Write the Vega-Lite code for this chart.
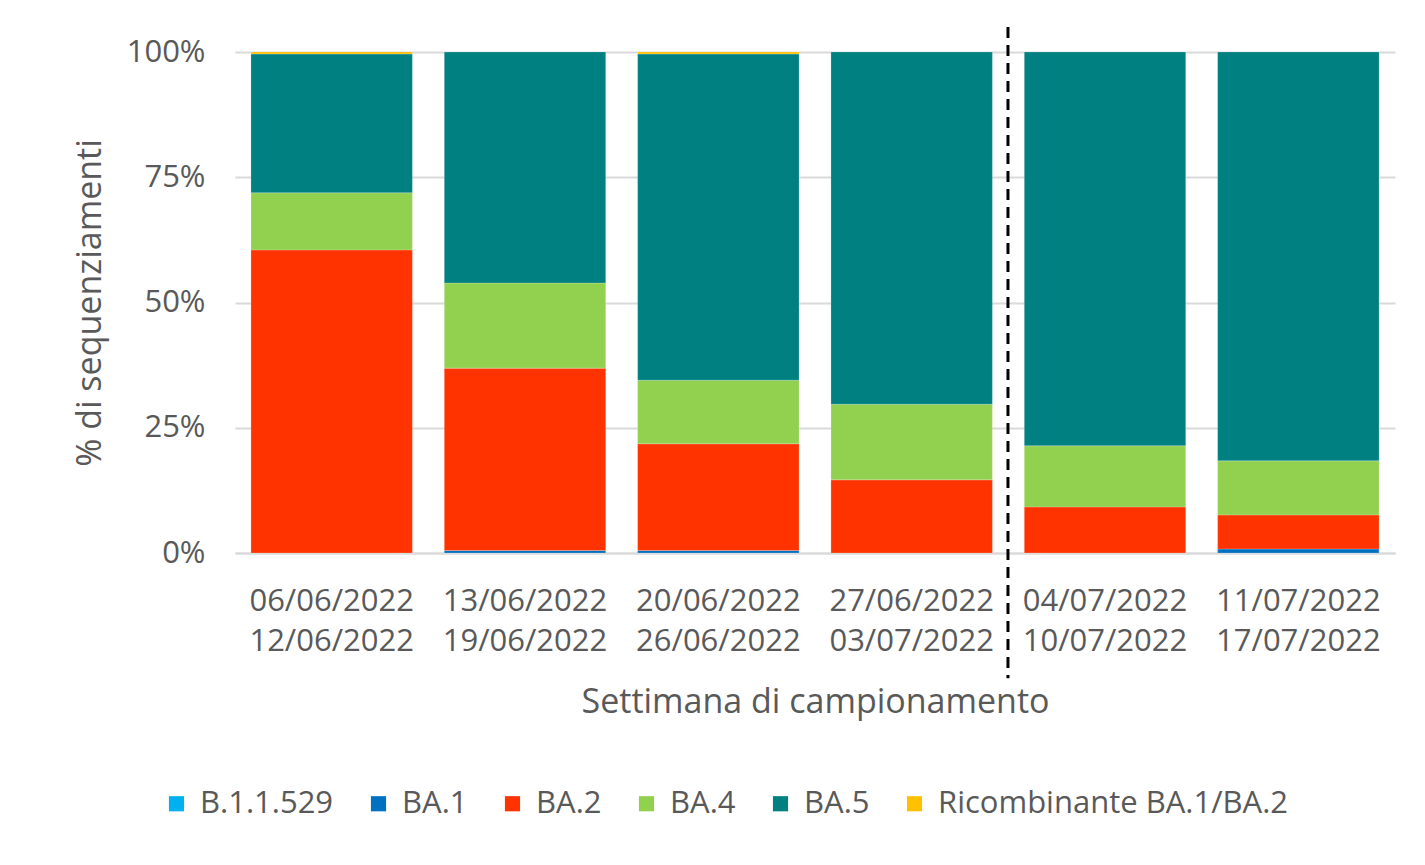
{
  "$schema": "https://vega.github.io/schema/vega-lite/v6.json",
  "width": 1160,
  "height": 501,
  "autosize": {"type": "none"},
  "padding": {"left": 235, "top": 52, "right": 30, "bottom": 312},
  "background": "white",
  "config": {
    "font": "Open Sans",
    "view": {"stroke": null},
    "axis": {"labelColor": "#595959", "titleColor": "#595959", "labelFont": "Open Sans", "titleFont": "Open Sans", "titleFontWeight": "normal"},
    "legend": {"labelFont": "Open Sans"}
  },
  "layer": [
    {
      "data": {"values": [
        {"week": "06/06/2022 12/06/2022", "variant": "BA.2", "value": 0.605},
        {"week": "06/06/2022 12/06/2022", "variant": "BA.4", "value": 0.114},
        {"week": "06/06/2022 12/06/2022", "variant": "BA.5", "value": 0.277},
        {"week": "06/06/2022 12/06/2022", "variant": "Ricombinante BA.1/BA.2", "value": 0.004},
        {"week": "13/06/2022 19/06/2022", "variant": "BA.1", "value": 0.005},
        {"week": "13/06/2022 19/06/2022", "variant": "BA.2", "value": 0.364},
        {"week": "13/06/2022 19/06/2022", "variant": "BA.4", "value": 0.17},
        {"week": "13/06/2022 19/06/2022", "variant": "BA.5", "value": 0.461},
        {"week": "20/06/2022 26/06/2022", "variant": "BA.1", "value": 0.005},
        {"week": "20/06/2022 26/06/2022", "variant": "BA.2", "value": 0.213},
        {"week": "20/06/2022 26/06/2022", "variant": "BA.4", "value": 0.127},
        {"week": "20/06/2022 26/06/2022", "variant": "BA.5", "value": 0.651},
        {"week": "20/06/2022 26/06/2022", "variant": "Ricombinante BA.1/BA.2", "value": 0.004},
        {"week": "27/06/2022 03/07/2022", "variant": "BA.2", "value": 0.146},
        {"week": "27/06/2022 03/07/2022", "variant": "BA.4", "value": 0.151},
        {"week": "27/06/2022 03/07/2022", "variant": "BA.5", "value": 0.703},
        {"week": "04/07/2022 10/07/2022", "variant": "BA.2", "value": 0.092},
        {"week": "04/07/2022 10/07/2022", "variant": "BA.4", "value": 0.122},
        {"week": "04/07/2022 10/07/2022", "variant": "BA.5", "value": 0.786},
        {"week": "11/07/2022 17/07/2022", "variant": "BA.1", "value": 0.008},
        {"week": "11/07/2022 17/07/2022", "variant": "BA.2", "value": 0.068},
        {"week": "11/07/2022 17/07/2022", "variant": "BA.4", "value": 0.108},
        {"week": "11/07/2022 17/07/2022", "variant": "BA.5", "value": 0.816}
      ]},
      "mark": {"type": "bar", "stroke": "white", "strokeWidth": 0.5, "strokeOpacity": 0.4},
      "encoding": {
        "x": {
          "field": "week", "type": "nominal", "sort": null,
          "scale": {
            "domain": ["06/06/2022 12/06/2022", "13/06/2022 19/06/2022", "20/06/2022 26/06/2022", "27/06/2022 03/07/2022", "04/07/2022 10/07/2022", "11/07/2022 17/07/2022"],
            "paddingInner": 0.165, "paddingOuter": 0.0825
          },
          "axis": {
            "title": "Settimana di campionamento",
            "titleFontSize": 34,
            "titleY": 149,
            "titleBaseline": "middle",
            "labelAngle": 0,
            "labelFontSize": 31,
            "labelLineHeight": 40,
            "labelPadding": 33,
            "labelExpr": "split(datum.label, ' ')",
            "ticks": false,
            "domain": true,
            "domainColor": "#D9D9D9",
            "domainWidth": 2
          }
        },
        "y": {
          "field": "value", "type": "quantitative", "stack": "zero",
          "scale": {"domain": [0, 1], "nice": false},
          "axis": {
            "title": "% di sequenziamenti",
            "titleFontSize": 34,
            "titleX": -145,
            "titleY": 250.5,
            "titleAngle": -90,
            "titleAlign": "center",
            "titleBaseline": "middle",
            "values": [0, 0.25, 0.5, 0.75, 1],
            "format": ".0%",
            "labelFontSize": 31,
            "labelPadding": 30,
            "ticks": false,
            "domain": false,
            "grid": true,
            "gridColor": "#D9D9D9",
            "gridWidth": 2
          }
        },
        "order": {"field": "variant", "sort": "ascending"},
        "color": {
          "field": "variant", "type": "nominal",
          "scale": {
            "domain": ["B.1.1.529", "BA.1", "BA.2", "BA.4", "BA.5", "Ricombinante BA.1/BA.2"],
            "range": ["#00B0F0", "#0070C0", "#FF3300", "#92D050", "#008080", "#FFC000"]
          },
          "legend": {
            "title": null,
            "orient": "none",
            "direction": "horizontal",
            "legendX": -74,
            "legendY": 736,
            "symbolType": "square",
            "symbolSize": 230,
            "symbolStrokeWidth": 0,
            "labelFontSize": 31,
            "labelColor": "#595959",
            "labelOffset": 8,
            "columnPadding": 29,
            "labelLimit": 600
          }
        }
      }
    },
    {
      "data": {"values": [{"week": "04/07/2022 10/07/2022", "top": 1.05, "bottom": -0.25}]},
      "mark": {"type": "rule", "color": "black", "strokeWidth": 3, "strokeDash": [11, 7], "clip": false},
      "encoding": {
        "x": {"field": "week", "type": "nominal", "bandPosition": -0.101},
        "y": {"field": "top", "type": "quantitative"},
        "y2": {"field": "bottom"}
      }
    }
  ]
}
